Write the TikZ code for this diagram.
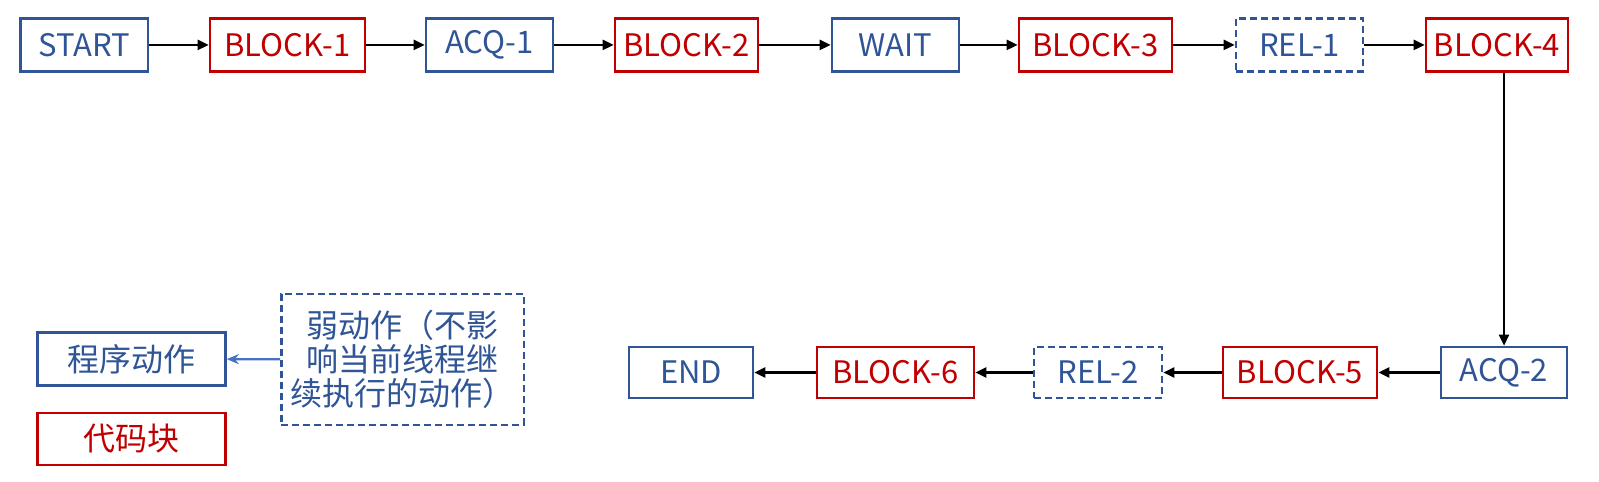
\documentclass[tikz,border=0pt]{standalone}
\usepackage{fontspec}
\setmainfont{Noto Sans CJK SC}
\usetikzlibrary{arrows.meta}
\definecolor{pblue}{HTML}{2F5597}
\definecolor{pred}{HTML}{C00000}
\definecolor{lblue}{HTML}{4472C4}
\tikzset{
  boxbase/.style={draw, line width=2.6pt, inner sep=0pt, font=\fontsize{31}{34}\selectfont},
  actbox/.style={boxbase, draw=pblue, text=pblue},
  codebox/.style={boxbase, draw=pred, text=pred},
  weakbox/.style={boxbase, draw=pblue, text=pblue, dash pattern=on 7pt off 4pt},
  cjk/.style={font=\fontsize{32}{34}\selectfont},
  flow/.style={line width=2.3pt, -{Triangle[length=11pt,width=10pt]}},
  legarrow/.style={line width=2.2pt, draw=lblue, -{Stealth[length=12pt,width=10pt]}}
}
\begin{document}
\begin{tikzpicture}[x=1pt,y=-1pt]
\useasboundingbox[fill=white] (0,0) rectangle (1599,482);
% top row
\node[actbox,  minimum width=127.5pt, minimum height=53pt] (start) at (84.2,44.9) {START};
\node[codebox, minimum width=155pt, minimum height=53pt] (b1) at (287.5,44.9) {BLOCK-1};
\node[actbox,  minimum width=127pt, minimum height=53pt] (acq1) at (489.5,44.9) {ACQ-1};
\node[codebox, minimum width=143pt, minimum height=53pt] (b2) at (686.5,44.9) {BLOCK-2};
\node[actbox,  minimum width=127pt, minimum height=53pt] (wait) at (895.5,44.9) {WAIT};
\node[codebox, minimum width=153pt, minimum height=53pt] (b3) at (1095.5,44.9) {BLOCK-3};
\node[weakbox, minimum width=127pt, minimum height=53pt] (rel1) at (1299.5,44.9) {REL-1};
\node[codebox, minimum width=142pt, minimum height=53pt] (b4) at (1497,44.9) {BLOCK-4};
% bottom row
\node[actbox,  minimum width=126pt, minimum height=51pt] (acq2) at (1504,372.5) {ACQ-2};
\node[codebox, minimum width=154pt, minimum height=51pt] (b5) at (1300,372.5) {BLOCK-5};
\node[weakbox, minimum width=128pt, minimum height=51pt] (rel2) at (1098,372.5) {REL-2};
\node[codebox, minimum width=157pt, minimum height=51pt] (b6) at (895.5,372.5) {BLOCK-6};
\node[actbox,  minimum width=124pt, minimum height=51pt] (end) at (691,372.5) {END};
% legend
\node[actbox, cjk, minimum width=188pt, minimum height=53pt] (legact) at (131.5,359) {程序动作};
\node[codebox, cjk, minimum width=188pt, minimum height=52pt] (legcode) at (131.5,439) {代码块};
\node[weakbox, cjk, minimum width=242.5pt, minimum height=131pt, align=center] (legweak) at (402.7,359.4)
      {弱动作（不影\\响当前线程继\\续执行的动作）};
% connectors
\draw[flow] (start) -- (b1);
\draw[flow] (b1) -- (acq1);
\draw[flow] (acq1) -- (b2);
\draw[flow] (b2) -- (wait);
\draw[flow] (wait) -- (b3);
\draw[flow] (b3) -- (rel1);
\draw[flow] (rel1) -- (b4);
\draw[flow] (acq2.north |- b4.south) -- (acq2.north);
\draw[flow] (acq2) -- (b5);
\draw[flow] (b5) -- (rel2);
\draw[flow] (rel2) -- (b6);
\draw[flow] (b6) -- (end);
\draw[legarrow] (legweak) -- (legact);
\end{tikzpicture}
\end{document}
